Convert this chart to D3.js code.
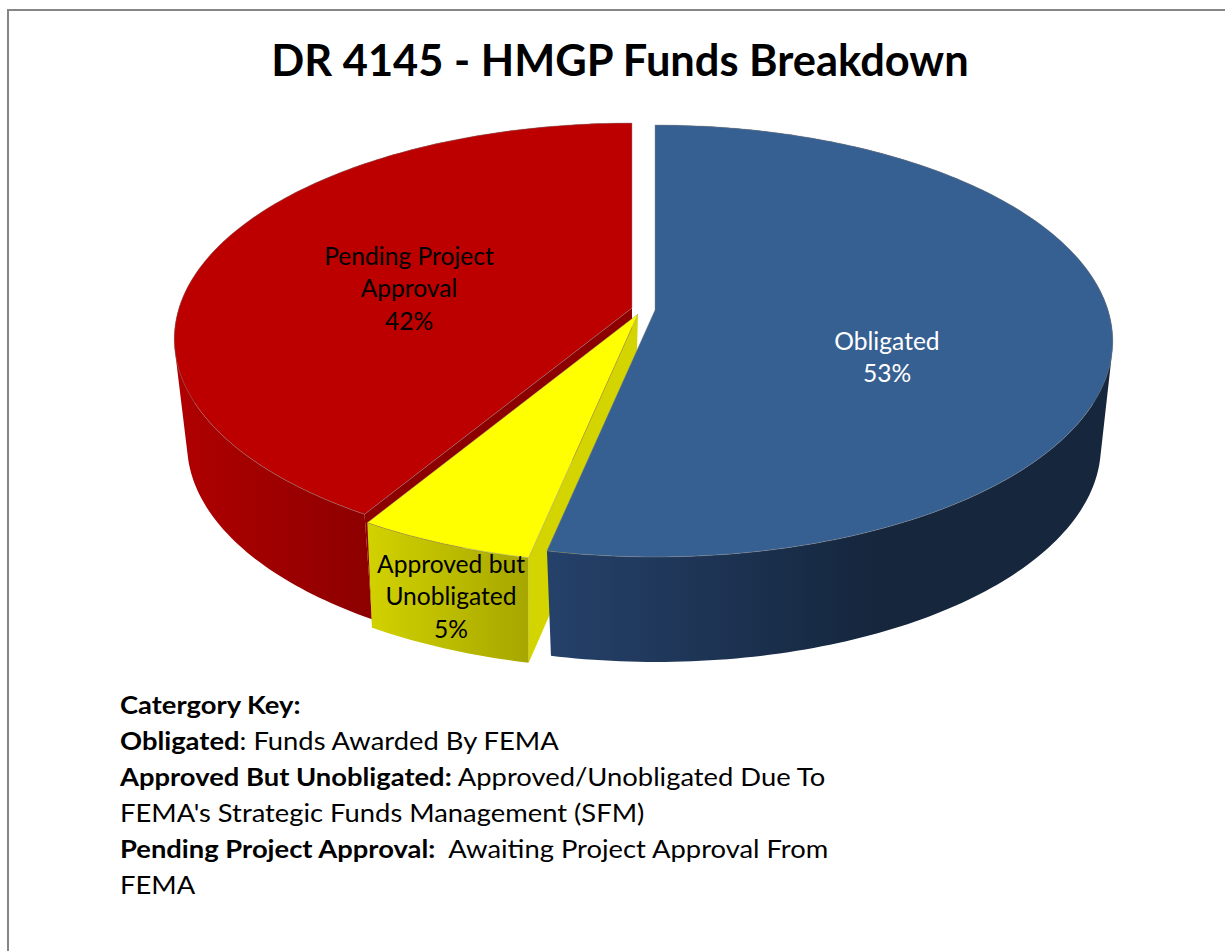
<!DOCTYPE html>
<html>
    <head>
        <meta charset="UTF-8"/>
        <style>
            html, body { margin: 0; padding: 0; background: #fff; }
            svg { display: block; }
            text { font-family: Lato, sans-serif; }
        </style>
    </head>
    <body>
        <script src="https://d3js.org/d3.v7.min.js" type="text/javascript"></script>
        <script>
        // data
        let categories = ["Obligated", "Approved but Unobligated", "Pending Project Approval"];
        // printed percentages, and the sweep of each slice as it reads off the drawn pie
        let percents = [53, 5, 42];
        let shares = [53.5, 5.4, 41.5];
        let keyLines = [
            [["Catergory Key:", true]],
            [["Obligated", true], [": Funds Awarded By FEMA", false]],
            [["Approved But Unobligated:", true], [" Approved/Unobligated Due To", false]],
            [["FEMA's Strategic Funds Management (SFM)", false]],
            [["Pending Project Approval:", true], ["\u00a0 Awaiting Project Approval From", false]],
            [["FEMA", false]]
        ];
        let titleText = "DR 4145 - HMGP Funds Breakdown";

        // layout
        let width = 1225, height = 951;
        let cx = 645, cy = 310;
        let radiusX = 453, radiusY = 211.5, persp = 0.1435;
        let depth = 105, bottomScale = 0.972;
        let explode = [[10, 0], [-7, 4], [-13, -2]];
        let sliceScale = [1, 1.012, 1];
        let lean = [1, -3, 0];
        let topColor = ["#376092", "#ffff00", "#bc0000"];
        let wallColor = [["#25416a", "#15263d"], ["#d2d200", "#a6a600"], ["#b00000", "#8e0000"]];
        let faceColor = [null, "#d4d400", "#8c0000"];
        let labelColor = ["#fff", "#000", "#000"];
        let labelLines = [["Obligated"], ["Approved but", "Unobligated"], ["Pending Project", "Approval"]];
        let labelPos = [[887, 342], [451, 565], [409, 257]];

        let svg = d3.select("body").append("svg").attr("width", width).attr("height", height);
        let defs = svg.append("defs");

        // frame, only top and left fall inside the picture
        svg.append("rect").attr("x", 8).attr("y", 10).attr("width", width).attr("height", height)
            .attr("fill", "#fff").attr("stroke", "#868686").attr("stroke-width", 2);

        svg.append("text").attr("x", 620).attr("y", 76).attr("text-anchor", "middle")
            .attr("font-size", "43.4px").attr("font-weight", 700).attr("fill", "#000").text(titleText);

        let slices = d3.pie().sort(null)(shares);
        let scaleX = d3.scaleLinear().domain([-1, 1]).range([-radiusX, radiusX]);
        let scaleY = d3.scaleLinear().domain([-1, 1]).range([-radiusY, radiusY]);
        let line = d3.line();

        // angle on the pie to screen, h = 0 top face, h = 1 bottom face
        function project(a, i, h) {
            let u = Math.sin(a), v = -Math.cos(a), w = 1 - persp * v;
            let s = (h ? bottomScale : 1) * sliceScale[i];
            return [cx + explode[i][0] + scaleX(u / w) * s + lean[i] * h,
                    cy + explode[i][1] + scaleY(v / w) * sliceScale[i] + depth * h];
        }
        function apex(i, h) {
            return [cx + explode[i][0] + lean[i] * h, cy + explode[i][1] + depth * h];
        }
        function steps(d) {
            return d3.range(d.startAngle, d.endAngle, Math.PI / 180).concat(d.endAngle);
        }
        function rim(d, i, h) {
            return steps(d).map(a => project(a, i, h));
        }

        // back slices first
        [2, 1, 0].forEach(function(i) {
            let d = slices[i];
            let xs = rim(d, i, 0).filter(p => p[1] > cy + explode[i][1]).map(p => p[0]);

            let grad = defs.append("linearGradient").attr("id", "wall" + i)
                .attr("gradientUnits", "userSpaceOnUse")
                .attr("x1", d3.min(xs)).attr("x2", i === 0 ? d3.min(xs) + 330 : d3.max(xs))
                .attr("y1", 0).attr("y2", 0);
            grad.append("stop").attr("offset", 0).attr("stop-color", wallColor[i][0]);
            grad.append("stop").attr("offset", 1).attr("stop-color", wallColor[i][1]);

            // outer wall, one quad per step so the silhouette stays right.
            // all quads wound the same way or they cancel out where the wall turns
            let quads = d3.pairs(steps(d)).map(function(p) {
                let q = [project(p[0], i, 0), project(p[1], i, 0), project(p[1], i, 1), project(p[0], i, 1)];
                if (d3.polygonArea(q) < 0) q.reverse();
                return line(q) + "Z";
            });
            svg.append("path")
                .attr("d", quads.join(""))
                .attr("fill", "url(#wall" + i + ")");

            // cut face towards the viewer
            if (faceColor[i]) {
                svg.append("path")
                    .attr("d", line([apex(i, 0), project(d.startAngle, i, 0), project(d.startAngle, i, 1), apex(i, 1)]) + "Z")
                    .attr("fill", faceColor[i]);
            }

            // top face
            svg.append("path")
                .attr("d", line([apex(i, 0)].concat(rim(d, i, 0))) + "Z")
                .attr("fill", topColor[i])
                .attr("stroke", "#8a8a8a").attr("stroke-opacity", 0.45).attr("stroke-width", 1)
                .attr("stroke-linejoin", "round");
        });

        // slice labels
        slices.forEach(function(d, i) {
            let lines = labelLines[i].concat(percents[i] + "%");
            svg.append("g").selectAll("text").data(lines).enter().append("text")
                .attr("x", labelPos[i][0])
                .attr("y", (t, n) => labelPos[i][1] + 8 + n * 32.3)
                .attr("text-anchor", "middle")
                .attr("font-size", "24.6px")
                .attr("fill", labelColor[i])
                .text(t => t);
        });

        // category key, the original is stretched sideways
        let key = svg.append("g").attr("transform", "translate(120,0) scale(1.095,1)")
            .selectAll("text").data(keyLines).enter().append("text")
            .attr("x", 0)
            .attr("y", (t, n) => 714 + n * 36)
            .attr("font-size", "25px")
            .attr("fill", "#000")
            .attr("xml:space", "preserve");
        key.selectAll("tspan").data(t => t).enter().append("tspan")
            .attr("font-weight", t => t[1] ? 700 : 400)
            .text(t => t[0]);
        </script>
    </body>
</html>
